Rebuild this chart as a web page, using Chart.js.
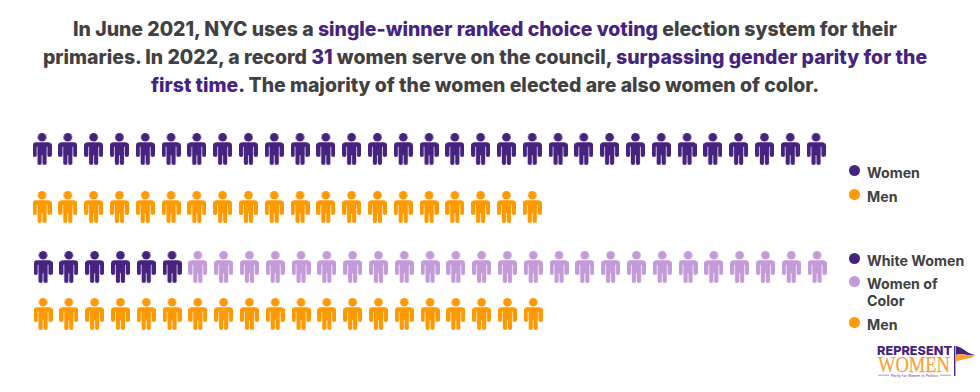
<!DOCTYPE html>
<html lang="en">
<head>
<meta charset="UTF-8">
<title>NYC council women</title>
<script src="https://cdn.jsdelivr.net/npm/chart.js"></script>
<style>
    html, body { margin: 0; padding: 0; background: #fff; }
    body { width: 980px; height: 392px; position: relative; overflow: hidden; font-family: Inter, sans-serif; color: #414042; }
    .titulo { position: absolute; left: 0; top: 15px; width: 970px; text-align: center; font-size: 19.45px; font-weight: 800; line-height: 28px; white-space: nowrap; }
    .titulo b { color: #46237f; font-weight: 800; }
    .grafico { position: absolute; left: 0; width: 840px; }
    #grafico1 { top: 120px; height: 114px; }
    #grafico2 { top: 240px; height: 100px; left: 1px; }
    .legenda { position: absolute; left: 849px; font-size: 14.2px; font-weight: 700; line-height: 17px; }
    .legenda div { position: absolute; left: 0; width: 128px; padding-left: 18px; box-sizing: border-box; }
    .legenda i { position: absolute; left: 0; top: 1px; width: 11px; height: 11px; border-radius: 50%; }
    #logo { position: absolute; left: 874px; top: 342px; }
</style>
</head>
<body>

<div class="titulo">
    In June 2021, NYC uses a <b>single-winner ranked choice voting</b> election system for their<br>
    primaries. In 2022, a record <b>31</b> women serve on the council, <b>surpassing gender parity for the</b><br>
    <b>first time.</b> The majority of the women elected are also women of color.
</div>

<div class="grafico" id="grafico1"><canvas id="chartGenero"></canvas></div>
<div class="grafico" id="grafico2"><canvas id="chartRaca"></canvas></div>

<div class="legenda" id="legendaGenero" style="top:164px"></div>
<div class="legenda" id="legendaRaca" style="top:252px"></div>

<svg id="logo" width="104" height="36" viewBox="0 0 104 36">
    <text x="3" y="13" font-family="Inter" font-weight="800" font-size="12.4" fill="#46237f" textLength="75" lengthAdjust="spacingAndGlyphs">REPRESENT</text>
    <text x="4" y="30" font-family="Liberation Serif" font-size="22.7" fill="#f9a13a" stroke="#f9a13a" stroke-width="0.25" textLength="72" lengthAdjust="spacingAndGlyphs">WOMEN</text>
    <text x="17" y="35" font-family="Inter" font-size="3.2" fill="#46237f" textLength="47">Parity for Women in Politics</text>
    <path d="M4 33.2H15M66 33.2H77" stroke="#8a6fb5" stroke-width="0.7"/>
    <rect x="80" y="4" width="1.4" height="30" fill="#46237f"/>
    <path d="M82 4 C89 5 93 12 101 13 C95 15 87 10 82 13Z" fill="#46237f"/>
    <path d="M82 13 C87 10 95 15 101 13 C98 18 88 16 82 20Z" fill="#f9a13a"/>
</svg>

<script>
    const mulheres = 31;
    const homens = 20;
    const mulheresBrancas = 6;
    const mulheresDeCor = 25;

    const roxo = '#46237f';
    const lilas = '#c39bd9';
    const laranja = '#ff9900';

    // desenha o bonequinho em um canvas separado, usado como pointStyle
    function criarPessoa(cor) {
        const c = document.createElement('canvas');
        c.width = 19;
        c.height = 32;
        const ctx = c.getContext('2d');
        ctx.fillStyle = cor;
        ctx.beginPath();
        ctx.arc(9.5, 4.3, 4.3, 0, Math.PI * 2);
        ctx.fill();
        ctx.beginPath();
        ctx.roundRect(0, 9.2, 19, 4.5, [3.5, 3.5, 0, 0]);
        ctx.roundRect(0, 10, 4.2, 14, 2);
        ctx.roundRect(14.8, 10, 4.2, 14, 2);
        ctx.rect(4.9, 9.2, 9.2, 13);
        ctx.roundRect(4.9, 16, 4.2, 16, 2);
        ctx.roundRect(9.9, 16, 4.2, 16, 2);
        ctx.fill();
        return c;
    }

    function pontosDaLinha(linha, inicio, qtd) {
        let pontos = [];
        for (let i = 0; i < qtd; i++) {
            pontos.push({ x: inicio + i, y: linha });
        }
        return pontos;
    }

    function dataset(label, pontos, cor) {
        return {
            label: label,
            data: pontos,
            pointStyle: criarPessoa(cor),
            backgroundColor: cor,
            borderColor: cor
        };
    }

    // os dois graficos usam a mesma escala x: 1 pessoa = 25.8px
    function plotarGrafico(id, datasets) {
        return new Chart(document.getElementById(id), {
            type: 'scatter',
            data: { datasets: datasets },
            options: {
                responsive: true,
                maintainAspectRatio: false,
                animation: false,
                layout: { padding: 0, autoPadding: false },
                plugins: { legend: { display: false }, tooltip: { enabled: false } },
                scales: {
                    x: { type: 'linear', display: false, min: -1.628, max: 30.93 },
                    y: { type: 'linear', display: false, min: 0, max: 1, reverse: true }
                }
            }
        });
    }

    plotarGrafico('chartGenero', [
        dataset('Women', pontosDaLinha(0.254, 0, mulheres), roxo),
        dataset('Men', pontosDaLinha(0.763, 0, homens), laranja)
    ]);

    plotarGrafico('chartRaca', [
        dataset('White Women', pontosDaLinha(0.27, 0, mulheresBrancas), roxo),
        dataset('Women of Color', pontosDaLinha(0.27, mulheresBrancas, mulheresDeCor), lilas),
        dataset('Men', pontosDaLinha(0.74, 0, homens), laranja)
    ]);

    function montarLegenda(id, itens) {
        let html = '';
        for (let i = 0; i < itens.length; i++) {
            html += `<div style="top:${itens[i].top}px"><i style="background:${itens[i].cor}"></i>${itens[i].texto}</div>`;
        }
        document.getElementById(id).innerHTML = html;
    }

    montarLegenda('legendaGenero', [
        { texto: 'Women', cor: roxo, top: 0 },
        { texto: 'Men', cor: laranja, top: 24 }
    ]);
    montarLegenda('legendaRaca', [
        { texto: 'White Women', cor: roxo, top: 0 },
        { texto: 'Women of<br>Color', cor: lilas, top: 23 },
        { texto: 'Men', cor: laranja, top: 64 }
    ]);
</script>
</body>
</html>
